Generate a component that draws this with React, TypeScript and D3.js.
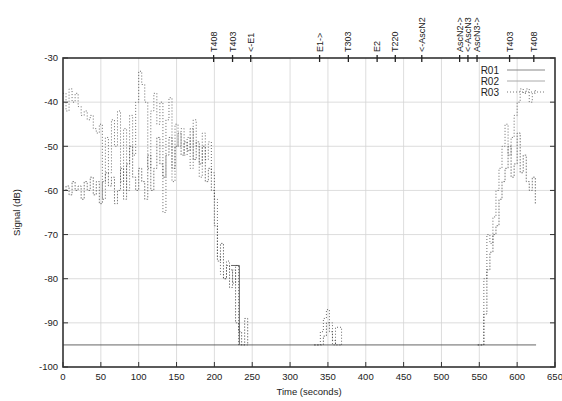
import React from 'react';
import * as d3 from 'd3';

// sampling grid for each recorded stretch (seconds)
const seg1Times = d3.range(0, 248, 4);
const seg2Times = d3.range(332, 372, 4);
const seg3Times = d3.range(548, 628, 4);

const r03Seg1 = [
  -38, -42, -37, -40, -38, -41, -43, -42, -44, -43, -46, -47, -45, -62, -48, -56,
  -44, -50, -42, -58, -46, -60, -43, -52, -40, -33, -36, -40, -55, -42, -38, -45,
  -40, -65, -44, -39, -58, -45, -50, -46, -52, -48, -55, -44, -50, -57, -47, -53,
  -49, -56, -62, -75, -79, -80, -76, -78, -81, -77, -95, -95, -95, -95,
];
const r02Seg1 = [
  -60, -59, -61, -58, -60, -59, -62, -58, -60, -57, -61, -58, -63, -58, -56, -59,
  -57, -63, -60, -55, -62, -54, -50, -57, -60, -55, -58, -62, -52, -60, -55, -48,
  -54, -57, -52, -48, -55, -50, -47, -52, -49, -51, -46, -53, -49, -54, -50, -58,
  -55, -60, -68, -76, -72, -80, -77, -82, -78, -90, -92, -95, -89, -95,
];
const r03Seg2 = [-95, -95, -92, -89, -87, -90, -95, -91, -91, -95];
const r02Seg2 = [-95, -95, -95, -93, -90, -92, -94, -95, -95, -95];
const r03Seg3 = [
  -95, -95, -80, -70, -72, -66, -60, -55, -50, -45, -52, -48, -43, -40, -37, -38,
  -37, -40, -38, -37,
];
const r02Seg3 = [
  -95, -95, -88, -78, -74, -70, -68, -62, -58, -55, -50, -57, -54, -47, -56, -52,
  -58, -60, -57, -63,
];

// R01 sits on the noise floor except one short stretch
const r01FloorTimes = [0, 625];
const r01FloorValues = [-95, -95];
const r01BumpTimes = [222, 233, 233];
const r01BumpValues = [-77, -77, -95];

const xTicks = [0, 50, 100, 150, 200, 250, 300, 350, 400, 450, 500, 550, 600, 650];
const yTicks = [-30, -40, -50, -60, -70, -80, -90, -100];

const eventTimes = [199, 224, 248, 339, 377, 415, 439, 474, 524, 535, 547, 590, 622];
const eventLabels = [
  'T408', 'T403', '<-E1', 'E1->', 'T303', 'E2', 'T220', '<-AscN2',
  'AscN2->', '<-AscN3', 'AscN3->', 'T403', 'T408',
];

const seriesNames = ['R01', 'R02', 'R03'];

const W = 562;
const H = 401;
const margin = { top: 58, right: 7, bottom: 34, left: 63 };
const font = '"Liberation Sans", Arial, sans-serif';

type Pt = [number, number];
const zipPts = (t: number[], v: number[]): Pt[] => t.map((d, i) => [d, v[i]]);

export default function App() {
  const x = d3.scaleLinear().domain([0, 650]).range([margin.left, W - margin.right]);
  const y = d3.scaleLinear().domain([-100, -30]).range([H - margin.bottom, margin.top]);

  const step = d3
    .line<Pt>()
    .x(d => x(d[0]))
    .y(d => y(d[1]))
    .curve(d3.curveStepAfter);
  const straight = d3
    .line<Pt>()
    .x(d => x(d[0]))
    .y(d => y(d[1]));

  const r01 = [
    straight(zipPts(r01FloorTimes, r01FloorValues)) || '',
    straight(zipPts(r01BumpTimes, r01BumpValues)) || '',
  ];
  const r02 = [
    zipPts(seg1Times, r02Seg1),
    zipPts(seg2Times, r02Seg2),
    zipPts(seg3Times, r02Seg3),
  ].map(p => step(p) || '');
  const r03 = [
    zipPts(seg1Times, r03Seg1),
    zipPts(seg2Times, r03Seg2),
    zipPts(seg3Times, r03Seg3),
  ].map(p => step(p) || '');

  const x0 = margin.left;
  const x1 = W - margin.right;
  const y0 = H - margin.bottom;
  const y1 = margin.top;

  const legendStyles = [
    { stroke: '#888', dash: 'none' },
    { stroke: '#aaa', dash: 'none' },
    { stroke: '#777', dash: '1,2' },
  ];

  return (
    <svg
      width={W}
      height={H}
      style={{ position: 'absolute', left: 0, top: 0, background: '#fff' }}
      fontFamily={font}
    >
      {/* grid */}
      <g stroke="#d4d4d4" strokeWidth={0.8}>
        {xTicks.slice(1, -1).map(t => (
          <line key={'gx' + t} x1={x(t)} x2={x(t)} y1={y0} y2={y1} />
        ))}
        {yTicks.slice(1, -1).map(t => (
          <line key={'gy' + t} x1={x0} x2={x1} y1={y(t)} y2={y(t)} />
        ))}
      </g>

      {/* series */}
      {r01.map((d, i) => (
        <path key={'r' + i} d={d} fill="none" stroke="#555" strokeWidth={0.9} />
      ))}
      {r02.map((d, i) => (
        <path key={'a' + i} d={d} fill="none" stroke="#555" strokeWidth={0.8} strokeDasharray="1.5,1.5" />
      ))}
      {r03.map((d, i) => (
        <path key={'b' + i} d={d} fill="none" stroke="#444" strokeWidth={0.8} strokeDasharray="1,2" />
      ))}

      {/* frame */}
      <rect x={x0} y={y1} width={x1 - x0} height={y0 - y1} fill="none" stroke="#333" strokeWidth={1.6} />

      {/* y ticks */}
      <g fontSize={9.5} fill="#222">
        {yTicks.map(t => (
          <g key={'yt' + t}>
            <line x1={x0} x2={x0 + 5} y1={y(t)} y2={y(t)} stroke="#333" />
            <line x1={x1} x2={x1 - 5} y1={y(t)} y2={y(t)} stroke="#333" />
            <text x={x0 - 5} y={y(t)} dy="0.35em" textAnchor="end">
              {t}
            </text>
          </g>
        ))}
      </g>

      {/* x ticks */}
      <g fontSize={9.5} fill="#222">
        {xTicks.map(t => (
          <g key={'xt' + t}>
            <line x1={x(t)} x2={x(t)} y1={y0} y2={y0 - 5} stroke="#333" />
            <text x={x(t)} y={y0 + 13} textAnchor="middle">
              {t}
            </text>
          </g>
        ))}
      </g>

      {/* event ticks on top */}
      <g fontSize={9} fill="#222">
        {eventTimes.map((t, i) => (
          <g key={'ev' + i}>
            <line x1={x(t)} x2={x(t)} y1={y1 - 3} y2={y1 + 4} stroke="#222" strokeWidth={1.3} />
            <text
              transform={`translate(${x(t) + 3},${y1 - 6}) rotate(-90)`}
              textAnchor="start"
            >
              {eventLabels[i]}
            </text>
          </g>
        ))}
      </g>

      {/* legend */}
      <g fontSize={10} fill="#222">
        {seriesNames.map((s, i) => (
          <g key={s} transform={`translate(0,${70 + i * 11})`}>
            <text x={499} y={0} dy="0.35em" textAnchor="end">
              {s}
            </text>
            <line
              x1={507}
              x2={545}
              y1={0}
              y2={0}
              stroke={legendStyles[i].stroke}
              strokeDasharray={legendStyles[i].dash}
            />
          </g>
        ))}
      </g>

      {/* axis titles */}
      <text
        transform={`translate(20,${(y0 + y1) / 2}) rotate(-90)`}
        textAnchor="middle"
        fontSize={9.5}
        fill="#222"
      >
        Signal (dB)
      </text>
      <text x={(x0 + x1) / 2} y={H - 6} textAnchor="middle" fontSize={9.5} fill="#222">
        Time (seconds)
      </text>
    </svg>
  );
}
